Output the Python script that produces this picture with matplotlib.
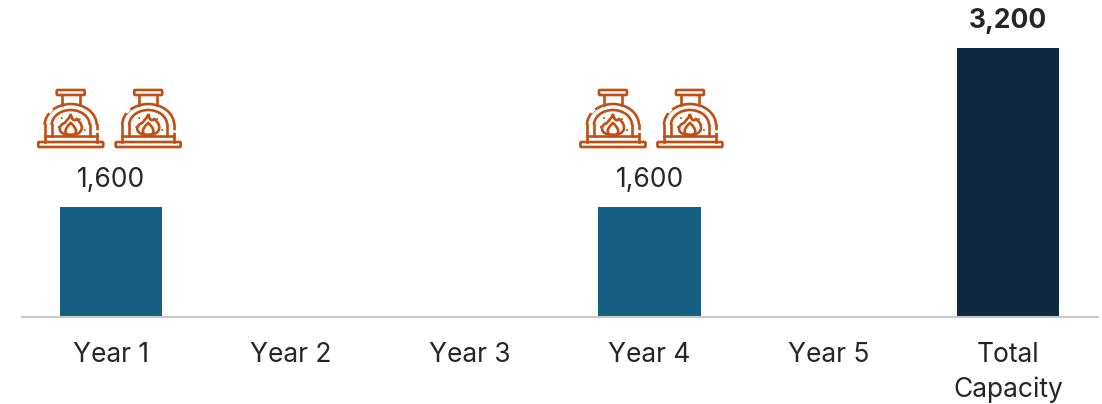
import matplotlib
matplotlib.use('Agg')
import matplotlib.pyplot as plt
from matplotlib.patches import Arc, Ellipse, FancyBboxPatch, PathPatch
from matplotlib.path import Path

plt.rc('font', family=['Inter', 'DejaVu Sans'], size=19)

categories = ['Year 1', 'Year 2', 'Year 3', 'Year 4', 'Year 5', 'Total\nCapacity']
values = [1600, None, None, 1600, None, 3200]
bar_colors = ['#156082', '#156082', '#156082', '#156082', '#156082', '#0E2841']
bold_label = [False, False, False, False, False, True]
oven_years = ['Year 1', 'Year 4']
oven_offsets = [(-40.5, 37), (-36.5, 40.5)]

W, H = 1102, 404
DARK = '#262626'
OVEN = '#C04F15'
LW = 1.9


def rbox(a, x0, y0, x1, y1):
    a.add_patch(FancyBboxPatch((x0, y0), x1 - x0, y1 - y0, boxstyle='round,pad=0,rounding_size=1',
                               fc='white', ec=OVEN, lw=LW))


def oven(a, cx, bottom=147):
    # icon drawn in pixels, bottom is the lower edge of the base plate
    y = lambda d: bottom - d
    a.add_patch(Arc((cx, y(22)), 52, 42, theta1=180, theta2=360, ec=OVEN, lw=LW))
    a.add_patch(Arc((cx, y(22)), 38, 30, theta1=180, theta2=360, ec=OVEN, lw=LW))
    a.plot([cx - 26, cx - 26], [y(22), y(5)], c=OVEN, lw=LW)
    a.plot([cx + 26, cx + 26], [y(22), y(5)], c=OVEN, lw=LW)
    a.plot([cx - 19, cx - 19], [y(22), y(11)], c=OVEN, lw=LW)
    a.plot([cx + 19, cx + 19], [y(22), y(11)], c=OVEN, lw=LW)
    a.plot([cx - 26, cx + 26], [y(11), y(11)], c=OVEN, lw=LW)
    a.plot([cx - 9, cx - 9], [y(42), y(52)], c=OVEN, lw=LW)
    a.plot([cx + 9, cx + 9], [y(42), y(52)], c=OVEN, lw=LW)
    rbox(a, cx - 14, y(57), cx + 14, y(52))
    rbox(a, cx - 32.5, y(5), cx + 32.5, y(0))
    # flames
    outer = [(cx, y(12)), (cx - 14, y(12)), (cx - 13, y(22)), (cx - 6, y(24)),
             (cx - 3, y(28)), (cx - 1, y(29)), (cx, y(33)), (cx + 1, y(28)), (cx + 3, y(25)),
             (cx + 6, y(28)), (cx + 14, y(22)), (cx + 13, y(12)), (cx, y(12))]
    codes = [Path.MOVETO] + [Path.CURVE4] * 12
    a.add_patch(PathPatch(Path(outer, codes), fc='none', ec=OVEN, lw=LW))
    inner = [(cx, y(12)), (cx - 8, y(12)), (cx - 6, y(19)), (cx, y(24)),
             (cx + 6, y(19)), (cx + 8, y(12)), (cx, y(12))]
    a.add_patch(PathPatch(Path(inner, [Path.MOVETO] + [Path.CURVE4] * 6), fc='none', ec=OVEN, lw=LW))
    for dx, d in [(-12, 20), (9, 28), (14, 17), (-9, 29)]:
        a.add_patch(Ellipse((cx + dx, y(d)), 2, 2, fc=OVEN, ec='none'))
    # small breaks in the dome
    a.plot([cx - 21, cx - 19], [y(35), y(37)], c='white', lw=1.8)
    a.plot([cx + 25, cx + 27], [y(16), y(16)], c='white', lw=1.8)


fig = plt.figure(figsize=(W / 100, H / 100), dpi=100)
ax = fig.add_axes([21.5 / W, (H - 316.5) / H, (1098 - 21.5) / W, 316.5 / H])

for i, (v, c) in enumerate(zip(values, bar_colors)):
    if v is not None:
        ax.bar(i, v, width=0.57, color=c, zorder=1)
        ax.annotate(f'{v:,}', (i, v), xytext=(0, 27 * 0.72), textcoords='offset points',
                    ha='center', va='center', color=DARK,
                    fontweight='bold' if bold_label[i] else 'normal')

ax.set_xlim(-0.5, 5.5)
ax.set_ylim(503, 3686)
ax.set_xticks(range(len(categories)))
ax.set_xticklabels(categories, color=DARK, linespacing=1.43, va='top')
ax.set_yticks([])
ax.tick_params(axis='x', length=0, pad=18)
for s in ['top', 'left', 'right']:
    ax.spines[s].set_visible(False)
ax.spines['bottom'].set_color('#C8C8C8')
ax.spines['bottom'].set_linewidth(1.5)

# overlay in pixel units for the oven icons
ov = fig.add_axes([0, 0, 1, 1], facecolor='none')
ov.set_xlim(0, W)
ov.set_ylim(H, 0)
ov.axis('off')
for year, offs in zip(oven_years, oven_offsets):
    cx = ax.transData.transform((categories.index(year), 0))[0]
    for off in offs:
        oven(ov, cx + off)

fig.savefig('out.png', dpi=100)
